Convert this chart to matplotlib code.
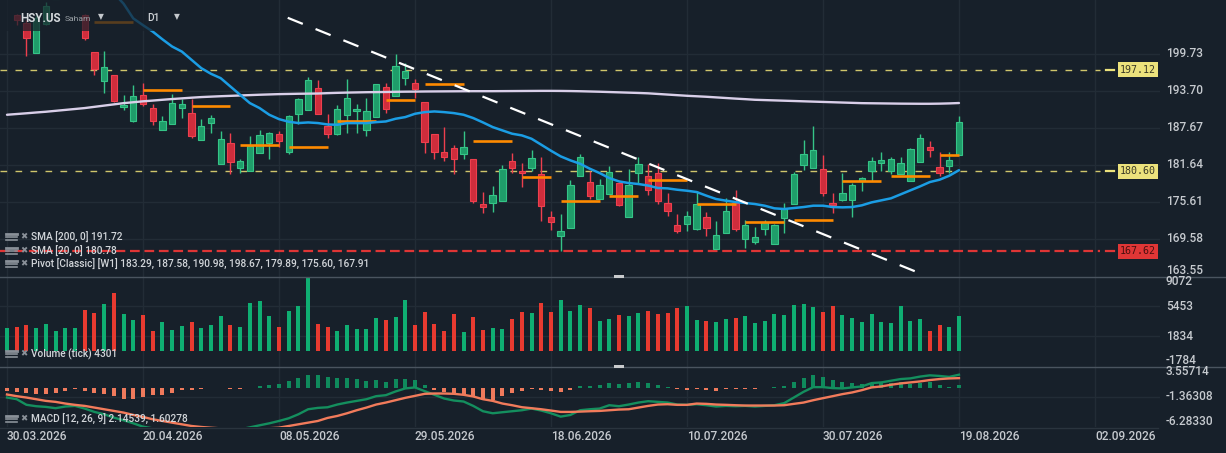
import numpy as np
import pandas as pd
import matplotlib
matplotlib.use("Agg")
import matplotlib.pyplot as plt
from matplotlib.patches import Rectangle
from matplotlib.lines import Line2D

# ---------------- data ----------------
holidays = ["2026-04-03", "2026-05-25", "2026-06-19", "2026-07-03"]
dates = pd.bdate_range("2026-03-30", "2026-08-19")
dates = dates[~dates.isin(pd.to_datetime(holidays))]

opens = [209.4, 206.0, 204.8, 199.84, 204.6, 208.7, 209.5, 209.8, 206.0, 200.0,
         195.3, 196.3, 191.05, 188.8, 193.0, 190.9, 187.3, 188.3, 190.9, 190.1,
         185.7, 188.5, 181.8, 185.2, 181.1, 180.6, 183.6, 185.2, 186.7, 183.7,
         189.9, 190.6, 194.1, 188.0, 186.6, 189.8, 190.4, 187.3, 189.4, 194.3,
         192.8, 195.8, 195.0, 191.9, 186.7, 183.7, 184.4, 183.4, 182.6, 175.2,
         175.4, 175.7, 182.3, 180.7, 181.1, 180.1, 173.2, 170.0, 171.4, 179.9,
         178.9, 176.1, 176.9, 178.7, 173.2, 180.3, 179.9, 180.4, 175.4, 171.8,
         172.0, 171.2, 173.2, 167.9, 170.6, 175.4, 169.6, 169.1, 171.2, 168.7,
         173.0, 175.3, 181.6, 181.1, 181.0, 175.4, 176.0, 175.9, 179.0, 180.6,
         181.9, 180.6, 180.2, 179.1, 182.1, 184.5, 181.3, 181.5, 183.3]
highs = [211.3, 206.3, 205.2, 206.0, 208.2, 210.8, 211.6, 212.0, 206.2, 200.1,
         200.2, 196.3, 193.0, 194.7, 195.0, 191.5, 189.6, 193.2, 192.3, 192.4,
         189.2, 189.8, 187.2, 186.8, 182.6, 186.3, 187.4, 187.0, 187.1, 189.7,
         192.5, 195.9, 195.5, 189.9, 191.4, 195.6, 191.5, 192.5, 194.8, 195.0,
         199.7, 198.2, 195.6, 191.9, 186.7, 187.8, 184.9, 187.2, 182.6, 177.2,
         178.2, 181.6, 183.6, 181.9, 184.1, 182.9, 174.2, 173.7, 179.2, 183.5,
         180.7, 179.3, 181.5, 178.9, 180.9, 182.9, 181.8, 181.9, 177.1, 173.7,
         174.2, 177.4, 174.0, 172.5, 176.3, 177.6, 172.7, 171.6, 172.6, 172.1,
         175.4, 180.5, 185.7, 188.0, 183.3, 177.1, 180.3, 178.7, 179.6, 183.0,
         183.7, 182.9, 183.0, 184.4, 186.6, 185.6, 183.8, 183.8, 189.6]
lows = [208.9, 204.45, 199.46, 199.8, 204.45, 208.6, 209.0, 209.2, 202.0, 196.3,
        193.4, 191.9, 190.6, 188.6, 191.3, 188.2, 187.3, 188.3, 189.3, 186.0,
        185.7, 186.9, 181.8, 180.2, 180.4, 180.6, 183.6, 182.6, 184.5, 183.4,
        188.3, 190.6, 189.9, 186.0, 186.5, 186.9, 186.9, 186.3, 189.4, 190.1,
        192.8, 194.6, 192.6, 183.6, 182.6, 182.2, 180.2, 182.6, 175.4, 173.8,
        173.9, 175.7, 180.4, 178.0, 180.7, 172.5, 171.1, 167.7, 171.4, 179.9,
        176.1, 176.1, 176.9, 175.0, 173.2, 178.7, 176.7, 175.3, 173.4, 170.5,
        170.9, 171.0, 170.0, 167.9, 170.5, 170.9, 168.1, 168.8, 170.2, 168.7,
        170.6, 175.3, 180.8, 181.1, 176.5, 173.8, 175.8, 173.2, 177.4, 179.0,
        180.6, 180.2, 180.2, 179.0, 182.1, 183.0, 179.9, 180.3, 183.3]
closes = [210.6, 205.2, 202.28, 205.5, 207.6, 210.2, 211.0, 211.4, 202.3, 197.2,
          197.6, 192.0, 191.4, 192.8, 191.5, 188.8, 188.8, 191.7, 191.5, 186.4,
          188.0, 189.3, 185.9, 182.1, 182.2, 184.8, 186.5, 186.9, 185.5, 189.6,
          192.3, 195.5, 189.9, 186.7, 190.8, 192.5, 190.7, 190.5, 194.8, 190.7,
          197.8, 196.9, 194.0, 185.3, 183.8, 183.0, 182.6, 184.6, 175.7, 174.8,
          176.8, 181.0, 181.2, 180.3, 182.7, 174.9, 172.3, 170.9, 178.3, 183.0,
          176.5, 178.3, 180.5, 175.1, 178.3, 181.8, 177.5, 175.7, 174.2, 170.9,
          173.4, 175.3, 171.4, 170.3, 174.2, 171.2, 171.8, 169.9, 172.3, 171.8,
          174.5, 180.2, 183.5, 184.1, 177.1, 175.1, 177.1, 178.3, 179.5, 182.3,
          182.5, 182.6, 181.9, 184.3, 186.0, 184.0, 180.3, 182.4, 188.6]

volume = [2774, 2894, 3136, 2774, 3256, 2412, 2774, 2774, 4945, 4583,
          5668, 6995, 4462, 3739, 4342, 2412, 3497, 2533, 3015, 3497,
          2774, 3176, 4261, 3136, 2894, 5789, 6030, 4261, 2894, 4824,
          5427, 8924, 3256, 2894, 2412, 3136, 2653, 2653, 3980, 3739,
          4100, 6151, 3136, 4703, 3256, 2412, 4462, 2291, 4100, 2533,
          2774, 2653, 3859, 4703, 4583, 5789, 4703, 6151, 4824, 5548,
          5186, 3618, 3859, 4342, 4221, 4583, 4824, 4462, 4583, 5186,
          5427, 3739, 3618, 3497, 3859, 3980, 4221, 3377, 3618, 4462,
          4342, 5548, 5668, 5306, 4703, 5427, 4342, 3980, 3497, 4462,
          3497, 3377, 5427, 3618, 3859, 2412, 3136, 2894, 4301]

sma200 = [189.81, 189.93, 190.05, 190.18, 190.3, 190.45, 190.6, 190.75, 190.9, 191.1,
          191.3, 191.5, 191.7, 191.85, 192.0, 192.12, 192.25, 192.37, 192.48, 192.59,
          192.69, 192.76, 192.83, 192.89, 192.95, 193.01, 193.07, 193.12, 193.17, 193.2,
          193.23, 193.25, 193.27, 193.33, 193.38, 193.42, 193.45, 193.48, 193.5, 193.52,
          193.55, 193.57, 193.58, 193.6, 193.61, 193.62, 193.63, 193.64, 193.65, 193.65,
          193.65, 193.66, 193.67, 193.68, 193.69, 193.7, 193.7, 193.69, 193.67, 193.64,
          193.6, 193.56, 193.51, 193.46, 193.41, 193.36, 193.3, 193.2, 193.1, 193.0,
          192.9, 192.82, 192.74, 192.64, 192.54, 192.44, 192.35, 192.25, 192.2, 192.15,
          192.1, 192.05, 192.0, 191.95, 191.9, 191.85, 191.8, 191.75, 191.7, 191.68,
          191.66, 191.64, 191.62, 191.61, 191.6, 191.6, 191.62, 191.66, 191.72]

sma20 = [215.5, 215.3, 215.0, 214.6, 214.1, 213.5, 212.9, 212.3, 211.7, 211.1,
         210.4, 209.6, 207.9, 205.5, 204.4, 203.36, 202.1, 200.92, 200.1, 198.75,
         197.4, 196.48, 195.77, 194.41, 193.06, 191.71, 190.9, 189.81, 189.1, 188.67,
         188.46, 188.56, 188.46, 188.23, 188.18, 188.45, 188.45, 188.45, 188.61, 188.72,
         189.16, 189.43, 189.97, 190.24, 190.35, 190.24, 190.08, 189.81, 189.27, 188.56,
         187.8, 187.26, 186.72, 186.45, 185.9, 184.93, 183.95, 183.03, 182.38, 181.83,
         181.02, 180.32, 179.5, 178.96, 178.69, 178.53, 178.28, 177.88, 177.82, 177.6,
         177.44, 177.22, 176.63, 176.09, 175.82, 175.6, 175.44, 175.27, 175.0, 174.57,
         174.46, 174.62, 174.78, 175.0, 175.0, 174.78, 174.73, 174.78, 175.06, 175.54,
         175.87, 176.2, 176.85, 177.5, 178.15, 178.85, 179.23, 179.88, 180.78]

# weekly classic pivot (one value per week of the dates above)
pivot_week = [210.2, 209.3, 204.99, 193.87, 191.27, 184.93, 184.5, 188.72, 192.25, 194.8,
              185.47, 179.61, 175.81, 176.52, 179.23, 175.33, 172.29, 172.72, 178.96, 179.77,
              183.29]

macd_line = [-1.53, -1.8, -2.7, -2.93, -3.04, -3.25, -2.98, -2.88, -3.31, -3.85,
             -4.23, -4.77, -5.2, -5.69, -6.23, -6.5, -6.6, -6.65, -6.55, -6.6,
             -6.55, -6.5, -6.55, -6.7, -6.66, -6.34, -6.01, -5.69, -5.31, -4.88,
             -4.23, -3.42, -3.2, -3.1, -2.66, -2.34, -2.07, -1.8, -1.31, -1.15,
             -0.55, -0.06, 0.1, -0.5, -1.09, -1.69, -2.01, -2.17, -2.88, -3.74,
             -4.07, -3.9, -3.74, -3.58, -3.31, -3.63, -4.07, -4.61, -4.34, -3.58,
             -3.42, -3.31, -2.77, -2.93, -2.66, -2.34, -2.12, -2.23, -2.34, -2.66,
             -2.71, -2.61, -2.77, -2.98, -2.88, -2.93, -2.88, -2.98, -2.88, -2.77,
             -2.44, -1.53, -0.61, 0.15, 0.15, -0.01, -0.06, 0.1, 0.26, 0.8,
             0.91, 1.18, 1.45, 1.56, 1.85, 2.05, 1.95, 1.8, 2.15]
signal_line = [-1.04, -1.31, -1.53, -1.8, -2.07, -2.23, -2.5, -2.71, -2.88, -3.15,
               -3.42, -3.69, -3.96, -4.34, -4.66, -5.04, -5.31, -5.58, -5.85, -6.12,
               -6.28, -6.4, -6.5, -6.6, -6.62, -6.6, -6.55, -6.48, -6.39, -6.12,
               -5.85, -5.58, -5.31, -4.82, -4.5, -4.07, -3.58, -3.15, -2.66, -2.34,
               -1.96, -1.58, -1.26, -0.93, -0.88, -0.88, -0.93, -1.09, -1.36, -1.8,
               -2.07, -2.5, -2.77, -3.09, -3.25, -3.42, -3.63, -3.85, -3.85, -3.8,
               -3.74, -3.69, -3.58, -3.47, -3.42, -3.15, -2.88, -2.66, -2.61, -2.71,
               -2.71, -2.5, -2.55, -2.66, -2.71, -2.77, -2.82, -2.82, -2.82, -2.82,
               -2.77, -2.55, -2.34, -1.96, -1.63, -1.31, -0.98, -0.71, -0.34, 0.1,
               0.26, 0.53, 0.75, 0.91, 1.07, 1.29, 1.45, 1.55, 1.6]
macd_hist = [-0.55, -0.66, -0.77, -0.98, -0.98, -0.82, -0.5, -0.23, -0.44, -0.82,
             -0.98, -1.36, -1.69, -1.79, -1.47, -1.15, -1.09, -0.82, -0.34, -0.34,
             -0.23, -0.05, 0.02, -0.1, -0.12, 0.03, 0.35, 0.55, 0.65, 1.14,
             1.63, 2.12, 2.12, 1.75, 1.63, 1.63, 1.46, 1.14, 1.3, 0.98,
             1.46, 1.46, 1.3, 0.49, -0.3, -0.7, -0.82, -1.04, -1.52, -1.9,
             -1.95, -1.3, -0.82, -0.5, -0.1, -0.25, -0.4, -0.65, -0.25, 0.35,
             0.35, 0.5, 0.85, 0.7, 0.85, 1.0, 0.85, 0.5, 0.2, -0.1,
             -0.25, -0.1, -0.25, -0.4, -0.2, -0.1, -0.1, -0.1, 0.0, 0.15,
             0.3, 1.0, 1.6, 2.1, 1.8, 1.3, 1.0, 0.85, 0.7, 0.85,
             0.85, 0.85, 1.0, 0.7, 0.85, 1.0, 0.5, 0.15, 0.54]

# manual drawing: trend line anchors (bar index, price)
trend_x = [28.9, 93.5]
trend_y = [205.6, 164.3]

levels_yellow = [197.12, 180.60]
level_red = 167.62

price_ticks = ["199.73", "193.70", "187.67", "181.64", "175.61", "169.58", "163.55"]
vol_ticks = ["9072", "5453", "1834", "-1784"]
macd_ticks = ["3.55714", "-1.36308", "-6.28330"]
date_labels = ["30.03.2026", "20.04.2026", "08.05.2026", "29.05.2026", "18.06.2026",
               "10.07.2026", "30.07.2026", "19.08.2026", "02.09.2026"]

legend_price = ["SMA [200, 0] 191.72", "SMA [20, 0] 180.78",
                "Pivot [Classic] [W1] 183.29, 187.58, 190.98, 198.67, 179.89, 175.60, 167.91"]
legend_vol = "Volume (tick) 4301"
legend_macd = "MACD [12, 26, 9] 2.14539, 1.60278"

# ---------------- style ----------------
W, H = 1226, 453
BG = "#17202a"
GRID = "#222c36"
TXT = "#c6cacf"
GREEN_B, GREEN_E = "#1f9d6a", "#35c487"
RED_B, RED_E = "#cf2d3c", "#ee3f4e"
VOL_G, VOL_R = "#0fae72", "#e83a30"
plt.rcParams["lines.scale_dashes"] = False
plt.rcParams["font.family"] = ["Roboto", "DejaVu Sans"]

fig = plt.figure(figsize=(W / 100, H / 100), dpi=100, facecolor=BG)

PX_L, PX_R = 0, 1160
STEP = 9.714
X0 = 7.0
xlo = (PX_L - X0) / STEP
xhi = (PX_R - X0) / STEP


def add_ax(y0, y1):
    ax = fig.add_axes([PX_L / W, 1 - y1 / H, (PX_R - PX_L) / W, (y1 - y0) / H])
    ax.set_facecolor(BG)
    ax.set_xlim(xlo, xhi)
    for s in ax.spines.values():
        s.set_visible(False)
    ax.set_xticks([])
    ax.set_yticks([])
    return ax


P_TOP, P_BOT = 0, 276
V_TOP, V_BOT = 276, 366
M_TOP, M_BOT = 366, 427
axp = add_ax(P_TOP, P_BOT)
axv = add_ax(V_TOP, V_BOT)
axm = add_ax(M_TOP, M_BOT)

P_LIM = (163.55, 208.5)
V_LIM = (-1784, 9072)
M_LIM = (-6.2833, 3.55714)
axp.set_ylim(*P_LIM)
axv.set_ylim(*V_LIM)
axm.set_ylim(*M_LIM)

n = len(opens)
idx = np.arange(n)
grid_idx = np.arange(len(date_labels)) * 14

# grids
for ax in (axp, axv, axm):
    for g in grid_idx:
        ax.axvline(g, color=GRID, lw=1.0, zorder=0)
for t in price_ticks[:-1]:
    axp.axhline(float(t), color=GRID, lw=1.0, zorder=0)
for t in vol_ticks[1:3]:
    axv.axhline(float(t), color=GRID, lw=1.0, zorder=0)
axm.axhline(float(macd_ticks[1]), color=GRID, lw=1.0, zorder=0)

# ---- price panel ----
x_end_lines = (1100 - X0) / STEP
for lv in levels_yellow:
    axp.hlines(lv, xlo, x_end_lines, color="#cfc56c", lw=1.0, linestyles=(0, (4.8, 6.0)), zorder=1)
axp.hlines(level_red, xlo, x_end_lines, color="#df3535", lw=1.6, linestyles=(0, (7.0, 3.4)), zorder=1)

# candles
body_w = 0.66
for i in range(n):
    o, h, l, c = opens[i], highs[i], lows[i], closes[i]
    up = c >= o
    fc, ec = (GREEN_B, GREEN_E) if up else (RED_B, RED_E)
    axp.vlines(i, l, h, color=ec, lw=1.0, zorder=3)
    lo_b, hi_b = min(o, c), max(o, c)
    if hi_b - lo_b < 0.18:
        hi_b = lo_b + 0.18
    axp.add_patch(Rectangle((i - body_w / 2, lo_b), body_w, hi_b - lo_b,
                            facecolor=fc, edgecolor=ec, lw=0.8, zorder=4))

# pivot segments per week
wk = pd.Series(idx, index=dates).groupby(dates.to_period("W-SUN"))
for k, (per, grp) in enumerate(wk):
    axp.hlines(pivot_week[k], grp.iloc[0], grp.iloc[-1], color="#ff8a00", lw=1.9, zorder=5)

axp.plot(idx, sma200, color="#d9cfe9", lw=1.7, zorder=5, solid_capstyle="round")
axp.plot(idx, sma20, color="#1b9de4", lw=1.8, zorder=5, solid_capstyle="round")
axp.plot(trend_x, trend_y, color="#ffffff", lw=1.6, linestyle=(0, (11.7, 9.9)), zorder=6)

# ---- volume panel ----
vcols = [VOL_G if closes[i] >= opens[i] else VOL_R for i in range(n)]
axv.bar(idx, volume, width=0.42, color=vcols, zorder=2)

# ---- macd panel ----
hcols = ["#0f8a5c" if v >= 0 else "#ef7a5c" for v in macd_hist]
axm.bar(idx, macd_hist, width=0.42, color=hcols, zorder=2)
axm.plot(idx, macd_line, color="#148f5e", lw=1.7, zorder=3)
axm.plot(idx, signal_line, color="#f27b5b", lw=1.7, zorder=4)

# ---------------- overlays in pixel space ----------------
def fx(px):
    return px / W


def fy(py):
    return 1 - py / H


# header dim box
fig.add_artist(Rectangle((fx(0), fy(31)), fx(192), 31 / H, transform=fig.transFigure,
                         facecolor=BG, alpha=0.72, edgecolor="none", zorder=20))
fig.text(fx(20), fy(18), "HSY.US", color="#d6dade", fontsize=8.4, fontweight="bold",
         va="center", ha="left", zorder=30)
fig.text(fx(65), fy(19), "Saham", color="#9aa0a6", fontsize=6.1, va="center", ha="left", zorder=30)
fig.text(fx(98), fy(17), "▼", color="#c4c8cc", fontsize=5.5, va="center", ha="left",
         family="DejaVu Sans", zorder=30)
fig.text(fx(147), fy(18), "D1", color="#d0d4d8", fontsize=7.4, fontweight="medium",
         va="center", ha="left", zorder=30)
fig.text(fx(174), fy(17), "▼", color="#c4c8cc", fontsize=5.5, va="center", ha="left",
         family="DejaVu Sans", zorder=30)


def legend_row(py, text):
    for dy, lw in ((-3.2, 2.0), (0.0, 1.2), (3.0, 1.2)):
        fig.add_artist(Line2D([fx(6), fx(17)], [fy(py + dy), fy(py + dy)], color="#8a9199",
                              lw=lw, transform=fig.transFigure, zorder=30))
    fig.text(fx(20), fy(py), "✖", color="#8a9199", fontsize=6.2, va="center", ha="left",
             family="DejaVu Sans", zorder=30)
    fig.text(fx(31), fy(py), text, color="#d2d6da", fontsize=7.3, fontweight="medium",
             va="center", ha="left", zorder=30)


legend_row(237, legend_price[0])
legend_row(251, legend_price[1])
legend_row(264, legend_price[2])
legend_row(354, legend_vol)
legend_row(419, legend_macd)

# panel separators
for py in (276.5, 366.5):
    fig.add_artist(Line2D([0, 1], [fy(py), fy(py)], color="#4a545f", lw=1.0,
                          transform=fig.transFigure, zorder=25))
    fig.add_artist(Rectangle((fx(614), fy(py + 1.5)), 10 / W, 3 / H, transform=fig.transFigure,
                             facecolor="#c9cbcd", edgecolor="none", zorder=26))
fig.add_artist(Line2D([0, fx(1158)], [fy(427.5), fy(427.5)], color="#2a343e", lw=1.0,
                      transform=fig.transFigure, zorder=25))


def val_to_py(v, lim, top, bot):
    lo, hi = lim
    return top + (hi - v) / (hi - lo) * (bot - top)


def right_labels(ticks, lim, top, bot):
    for s in ticks:
        py = val_to_py(float(s), lim, top, bot)
        py = min(max(py, top + 5.5), bot - 5.5)
        fig.text(fx(1166), fy(py), s, color=TXT, fontsize=8.6, fontweight="medium",
                 va="center", ha="left", zorder=30)


right_labels(price_ticks, P_LIM, P_TOP, P_BOT)
right_labels(vol_ticks, V_LIM, V_TOP, V_BOT)
right_labels(macd_ticks, M_LIM, M_TOP, M_BOT)

# price level tags
for lv, bc, tc in ((levels_yellow[0], "#ece27c", "#3b3a26"),
                   (levels_yellow[1], "#ece27c", "#3b3a26"),
                   (level_red, "#e03636", "#4a0f0f")):
    py = val_to_py(lv, P_LIM, P_TOP, P_BOT)
    fig.add_artist(Rectangle((fx(1118), fy(py + 7.5)), 40 / W, 15 / H, transform=fig.transFigure,
                             facecolor=bc, edgecolor="none", zorder=28))
    fig.add_artist(Line2D([fx(1106), fx(1114)], [fy(py), fy(py)], color=bc, lw=1.6,
                          transform=fig.transFigure, zorder=28))
    fig.text(fx(1156), fy(py), f"{lv:.2f}", color=tc, fontsize=7.2, family="DejaVu Sans Mono",
             va="center", ha="right", zorder=30)

# date labels
for g, s in zip(grid_idx, date_labels):
    px = X0 + g * STEP
    fig.text(fx(px), fy(437), s, color=TXT, fontsize=8.6, fontweight="medium",
             va="center", ha="left", zorder=30)

fig.savefig("out.png", dpi=100, facecolor=BG)
